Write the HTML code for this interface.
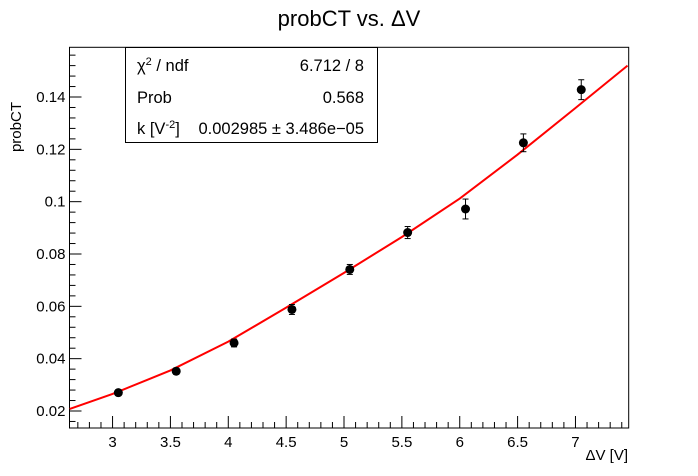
<!DOCTYPE html>
<html><head><meta charset="utf-8"><style>
body{margin:0;background:#fff;}
svg{display:block;font-family:"Liberation Sans",sans-serif;}
</style></head><body>
<svg id="c" width="698" height="476"></svg>
<script>
const xs=[3.05,3.55,4.05,4.55,5.05,5.55,6.05,6.55,7.05];
const ys=[0.027,0.0352,0.046,0.0588,0.0741,0.0882,0.0972,0.1225,0.1428];
const errs=[0.0011,0.0012,0.0015,0.0019,0.0019,0.0023,0.0038,0.0034,0.0038];
const fitX=[2.63,3,3.5,4,4.5,5,5.5,6,6.5,7,7.45];
const fitY=[0.0208,0.0265,0.0355,0.0465,0.0595,0.0728,0.0865,0.1012,0.118,0.1358,0.152];
const xTicks=[3,3.5,4,4.5,5,5.5,6,6.5,7];
const yTicks=[0.02,0.04,0.06,0.08,0.1,0.12,0.14];
const yTickLabels=["0.02","0.04","0.06","0.08","0.1","0.12","0.14"];
const L=69.5,R=628.7,T=47.3,B=428;
const X0=2.628,X1=7.46,Y0=0.0135,Y1=0.159;
const sx=v=>L+(v-X0)/(X1-X0)*(R-L);
const sy=v=>B-(v-Y0)/(Y1-Y0)*(B-T);
const svg=document.getElementById('c');
const NS='http://www.w3.org/2000/svg';
function mk(t,a,p){const e=document.createElementNS(NS,t);for(const k in a)e.setAttribute(k,a[k]);(p||svg).appendChild(e);return e;}
let e;
e=mk('rect',{x:L,y:T,width:R-L,height:B-T,fill:'none',stroke:'#000','stroke-width':1});


for(let v=2.7;v<=7.46;v+=0.1){const vv=Math.round(v*10)/10;const major=Math.abs(vv*2-Math.round(vv*2))<1e-6;
 e=mk('line',{x1:sx(vv),x2:sx(vv),y1:B,y2:B-(major?12:6),stroke:'#000'});
 
 }
xTicks.forEach(v=>{e=mk('text',{x:sx(v),y:B+19,'font-size':15,'text-anchor':'middle'});e.textContent=String(v);
 
 });
for(let i=0;;i++){const v=0.016+i*0.004;if(v>Y1)break;const major=(i%5)==1;
 e=mk('line',{x1:L,x2:L+(major?12:6),y1:sy(v),y2:sy(v),stroke:'#000'});
 
 }
yTicks.forEach((v,i)=>{e=mk('text',{x:L-4,y:sy(v)+5,'font-size':15,'text-anchor':'end'});e.textContent=yTickLabels[i];
 
 });
e=mk('polyline',{points:fitX.map((x,i)=>sx(x)+','+sy(fitY[i])).join(' '),fill:'none',stroke:'#f00','stroke-width':2});


xs.forEach((x,i)=>{const g=mk('g',{});
 
 
 const cx=sx(x),t=sy(ys[i]+errs[i]),b=sy(ys[i]-errs[i]);
 mk('line',{x1:cx,x2:cx,y1:t,y2:b,stroke:'#000'},g);
 mk('line',{x1:cx-3,x2:cx+3,y1:t,y2:t,stroke:'#000'},g);
 mk('line',{x1:cx-3,x2:cx+3,y1:b,y2:b,stroke:'#000'},g);
 mk('circle',{cx:cx,cy:sy(ys[i]),r:4.5,fill:'#000'},g);});
</script>
<svg width="698" height="476" style="position:absolute;left:0;top:0">
<text x="349" y="26" font-size="22" text-anchor="middle" font-family="Liberation Sans,sans-serif">probCT vs. ΔV</text>
<text transform="translate(21,102) rotate(-90)" font-size="15" text-anchor="end" font-family="Liberation Sans,sans-serif">probCT</text>
<text x="628" y="460" font-size="15" text-anchor="end" font-family="Liberation Sans,sans-serif">ΔV [V]</text>
<g font-family="Liberation Sans,sans-serif" font-size="16.5">
<rect x="125.5" y="47.5" width="252" height="95" fill="#fff" stroke="#000"/>
<text x="137" y="71">χ<tspan font-size="11" dy="-6">2</tspan><tspan dy="6"> / ndf</tspan></text>
<text x="364" y="71" text-anchor="end">6.712 / 8</text>
<text x="137" y="103">Prob</text>
<text x="364" y="103" text-anchor="end">0.568</text>
<text x="137" y="134">k [V<tspan font-size="11" dy="-6">-2</tspan><tspan dy="6">]</tspan></text>
<text x="364" y="134" text-anchor="end">0.002985 ± 3.486e−05</text>
</g>
</svg>
</body></html>
